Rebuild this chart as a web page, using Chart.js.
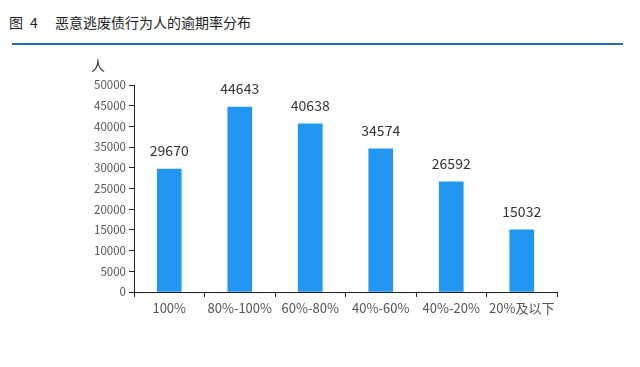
<!DOCTYPE html>
<html>
<head>
<meta charset="utf-8">
<script src="https://cdn.jsdelivr.net/npm/chart.js@4/dist/chart.umd.min.js"></script>
<style>
  body { margin: 0; background: #fff; }
  #wrap { position: relative; width: 640px; height: 367px; }
  .t { position: absolute; top: 12px; font: 14px "Noto Sans CJK SC", sans-serif; color: #222; white-space: nowrap; }
  #rule { position: absolute; left: 12px; top: 43px; width: 611px; height: 2px; background: #2a6cb4; }
  canvas { position: absolute; left: 0; top: 0; }
</style>
</head>
<body>
<div id="wrap">
  <span class="t" style="left:9px">图</span>
  <span class="t" style="left:30px">4</span>
  <span class="t" style="left:55px">恶意逃废债行为人的逾期率分布</span>
  <div id="rule"></div>
  <canvas id="chart" width="640" height="367"></canvas>
</div>
<script>
const categories = ['100%', '80%-100%', '60%-80%', '40%-60%', '40%-20%', '20%及以下'];
const people = [29670, 44643, 40638, 34574, 26592, 15032];
const yTicks = [0, 5000, 10000, 15000, 20000, 25000, 30000, 35000, 40000, 45000, 50000];

// 柱顶数值
const valueLabels = {
  id: 'valueLabels',
  afterDatasetsDraw(chart) {
    const ctx = chart.ctx;
    const meta = chart.getDatasetMeta(0);
    ctx.save();
    ctx.font = '14px "Noto Sans CJK SC", sans-serif';
    ctx.fillStyle = '#333';
    ctx.textAlign = 'center';
    ctx.textBaseline = 'alphabetic';
    meta.data.forEach((bar, i) => {
      ctx.fillText(people[i], bar.x, bar.y - 13);
    });
    // 单位
    ctx.textAlign = 'left';
    ctx.fillText('人', 91, 71);
    ctx.restore();
  }
};

new Chart(document.getElementById('chart'), {
  type: 'bar',
  data: {
    labels: categories,
    datasets: [{
      data: people,
      backgroundColor: '#2196f3',
      barThickness: 24
    }]
  },
  options: {
    responsive: false,
    animation: false,
    layout: { padding: { left: 0, right: 83, top: 85, bottom: 0 } },
    plugins: { legend: { display: false }, tooltip: { enabled: false } },
    scales: {
      x: {
        offset: true,
        grid: { display: true, offset: true, drawOnChartArea: false, tickLength: 5, color: '#222' },
        border: { color: '#222', width: 1 },
        ticks: {
          color: '#555',
          font: { size: 13, family: '"Noto Sans CJK SC", sans-serif' },
          padding: 3,
          maxRotation: 0,
          minRotation: 0,
          autoSkip: false
        },
        afterFit(scale) { scale.height = 75; }
      },
      y: {
        min: 0,
        max: 50000,
        afterBuildTicks(scale) { scale.ticks = yTicks.map(v => ({ value: v })); },
        grid: { display: true, drawOnChartArea: false, tickLength: 5, color: '#222' },
        border: { color: '#222', width: 1 },
        ticks: {
          color: '#555',
          font: { size: 11.5, family: '"Noto Sans CJK SC", sans-serif' },
          padding: 3,
          callback: v => String(v)
        },
        afterFit(scale) { scale.width = 134; }
      }
    }
  },
  plugins: [valueLabels]
});
</script>
</body>
</html>
